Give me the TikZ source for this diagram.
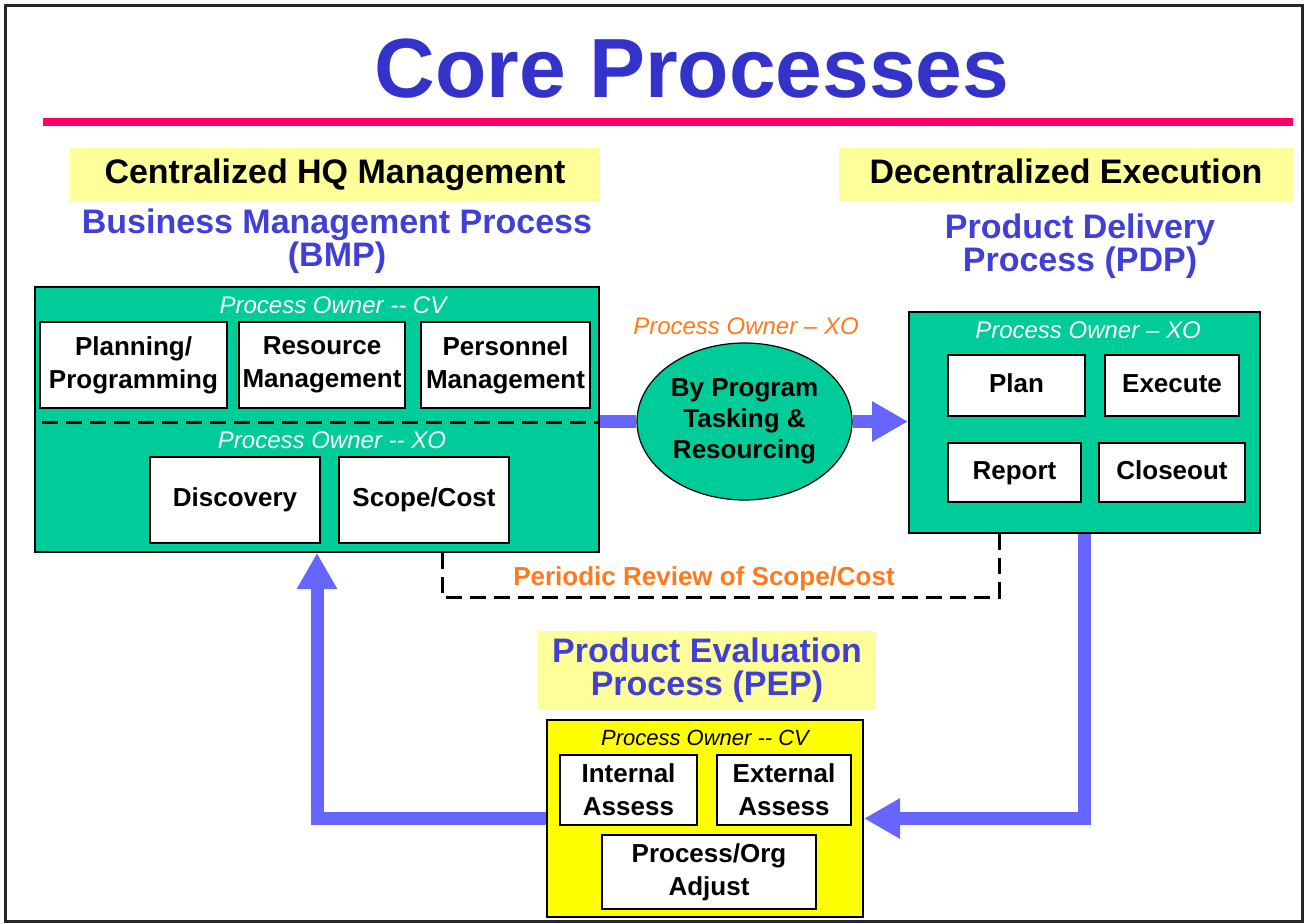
\documentclass[tikz,border=0pt]{standalone}
\usepackage{fontspec}
\setmainfont{Liberation Sans}
\usepackage{tikz}
\usetikzlibrary{positioning}
\usetikzlibrary{shapes.geometric}
\usetikzlibrary{arrows.meta}
\usepackage{xcolor}
\definecolor{titleblue}{RGB}{51,51,204}
\definecolor{procblue}{RGB}{64,64,214}
\definecolor{rulepink}{RGB}{255,0,102}
\definecolor{bannery}{RGB}{255,255,153}
\definecolor{bmpgreen}{RGB}{0,204,153}
\definecolor{flowblue}{RGB}{102,102,255}
\definecolor{ownerorange}{RGB}{255,122,30}
\definecolor{pepyellow}{RGB}{255,255,0}
\tikzset{
  banner/.style={fill=bannery, minimum height=27pt, font=\bfseries\fontsize{17}{20}\selectfont},
  proctitle/.style={text=procblue, align=center, font=\bfseries\fontsize{17}{16.5}\selectfont},
  group/.style={draw=black, line width=1pt},
  task/.style={draw=black, fill=white, line width=1pt, align=center, inner sep=0pt, font=\bfseries\fontsize{13}{16.5}\selectfont},
  owner/.style={font=\itshape\fontsize{12}{14}\selectfont, text=white, inner sep=0pt},
  flow/.style={draw=flowblue, line width=6.5pt},
  flowtip/.style={flow, -{Triangle[width=19pt,length=18pt]}},
  review/.style={draw=black, line width=1.5pt, dash pattern=on 8pt off 4pt},
}

\begin{document}
\begin{tikzpicture}[x=0.5pt, y=-0.5pt]
        \useasboundingbox (0,0) rectangle (1305,924);
        \draw[line width=1.5pt, black!85] (5,6) rectangle (1302,921);
        \node[text=titleblue, font=\bfseries\fontsize{42}{50}\selectfont, anchor=base] (title) at (692,98) {Core Processes};
        \draw[rulepink, line width=4pt] (43,122.5) -- (1293,122.5);
        % headings
        \node[banner, minimum width=265pt, text height=12.5pt, text depth=3.5pt] (hq) at (335,175) {Centralized HQ Management};
        \node[banner, minimum width=227pt, text height=12.5pt, text depth=3.5pt] (dec) at (1066,175) {Decentralized Execution};
        \node[proctitle] (bmpname) at (337,241) {Business Management Process\\(BMP)};
        \node[proctitle] (pdpname) at (1080,246.5) {Product Delivery\\Process (PDP)};
        % business management process
        \node[group, fill=bmpgreen, minimum width=282pt, minimum height=132.5pt] (bmp) at (317,419.5) {};
        \node[owner] (bmpcv) at (333,305) {Process Owner -{}- CV};
        \node[task, minimum width=93.5pt, minimum height=43pt] (pp) at (133.5,365) {Planning/\\Programming};
        \node[task, minimum width=83pt, minimum height=43pt] (rm) at (322,365) {Resource\\Management};
        \node[task, minimum width=84.5pt, minimum height=43pt] (pm) at (505.5,365) {Personnel\\Management};
        \coordinate (split) at (317,423);
        \draw[review] ([xshift=4pt]bmp.west |- split) -- (bmp.east |- split);
        \node[owner] (bmpxo) at (332,440) {Process Owner -{}- XO};
        \node[task, minimum width=85pt, minimum height=43pt] (disc) at (235,500) {Discovery};
        \node[task, minimum width=85pt, minimum height=43pt] (scope) at (424,500) {Scope/Cost};
        % tasking
        \node[ellipse, draw=black, fill=bmpgreen, line width=0.6pt, minimum width=107.5pt, minimum height=78.5pt, align=center, inner sep=0pt, font=\bfseries\fontsize{13}{15.5}\selectfont] (tasking) at (744.5,421.5) {By Program\\Tasking \&\\Resourcing};
        \node[owner, text=ownerorange] (tkxo) at (746,326) {Process Owner \textendash{} XO};
        % product delivery process
        \node[group, fill=bmpgreen, minimum width=175.5pt, minimum height=110.5pt] (pdp) at (1084.5,422.5) {};
        \node[owner] (pdpxo) at (1088,330) {Process Owner \textendash{} XO};
        \begin{scope}[every node/.append style={font=\bfseries\fontsize{14.5}{17}\selectfont, text height=10.5pt, text depth=3pt}]
        \node[task, minimum width=68.5pt, minimum height=30.5pt] (pdplan) at (1016.5,385.5) {Plan};
        \node[task, minimum width=67pt, minimum height=30.5pt] (pdexec) at (1172,385.5) {Execute};
        \node[task, minimum width=66.5pt, minimum height=29.5pt] (pdrep) at (1014.5,472.5) {Report};
        \node[task, minimum width=73pt, minimum height=29.5pt] (pdclose) at (1172,472.5) {Closeout};
        \end{scope}
        % product evaluation process
        \node[banner, proctitle, minimum width=169pt, minimum height=38.5pt] (pepname) at (707,670.5) {Product Evaluation\\Process (PEP)};
        \node[group, fill=pepyellow, minimum width=158pt, minimum height=98.5pt] (pep) at (705,818.5) {};
        \node[owner, text=black, font=\itshape\fontsize{11}{13}\selectfont] (pepcv) at (705,738) {Process Owner -{}- CV};
        \begin{scope}[every node/.append style={font=\bfseries\fontsize{13.5}{17}\selectfont}]
        \node[task, minimum width=68.5pt, minimum height=35pt] (intas) at (628.5,790) {Internal\\Assess};
        \node[task, minimum width=67pt, minimum height=35pt] (extas) at (784,790) {External\\Assess};
        \node[task, minimum width=107pt, minimum height=37pt] (orgadj) at (709,872) {Process/Org\\Adjust};
        \end{scope}
        % flows
        \draw[flow] (tasking.west -| bmp.east) -- (tasking.west);
        \draw[flowtip] (tasking.east) -- (tasking.east -| pdp.west);
        \draw[flowtip] (pdp.south) |- (pep.east);
        \draw[flowtip] (pep.west) -| (bmp.south);
        % periodic review
        \coordinate (revl) at (442,597);
        \coordinate (revr) at (999,597);
        \draw[review] (revl |- bmp.south) -- (revl) -- (revr) -- (revr |- pdp.south);
        \node[text=ownerorange, font=\bfseries\fontsize{13}{15}\selectfont] (revtext) at (704,579) {Periodic Review of Scope/Cost};
    \end{tikzpicture}
\end{document}
